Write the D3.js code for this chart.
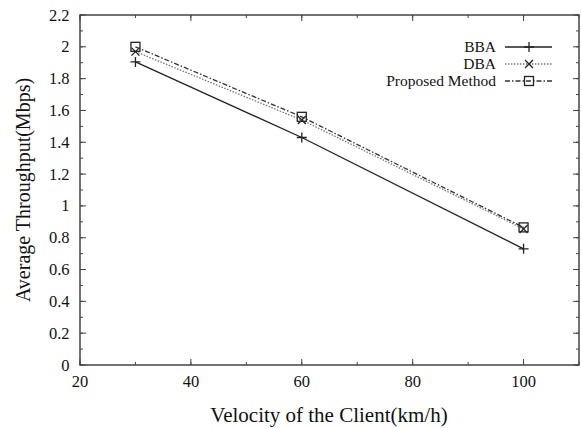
<!DOCTYPE html>
<html>
<head>
<meta charset="utf-8">
<script src="https://cdn.jsdelivr.net/npm/d3@7"></script>
<style>
body { margin: 0; background: #fff; }
text { font-family: "Liberation Serif", "Times New Roman", serif; fill: #111; }
</style>
</head>
<body>
<div id="chart"></div>
<script>
var velocity = [30, 60, 100];
var bba = [1.905, 1.43, 0.73];
var dba = [1.97, 1.54, 0.855];
var proposed = [2.0, 1.56, 0.865];
var seriesNames = ["BBA", "DBA", "Proposed Method"];
var xTicks = [20, 40, 60, 80, 100];
var yTicks = [0, 0.2, 0.4, 0.6, 0.8, 1, 1.2, 1.4, 1.6, 1.8, 2, 2.2];

var margin = {top: 15, right: 3, bottom: 63, left: 80};
var width = 582 - margin.left - margin.right;
var height = 428 - margin.top - margin.bottom;

var svg = d3.select("#chart")
    .append("svg")
        .attr("width", 582)
        .attr("height", 428)
    .append("g")
    .attr("transform", "translate(" + margin.left + "," + margin.top + ")");

var x = d3.scaleLinear().domain([20, 110]).range([0, width]);
var y = d3.scaleLinear().domain([0, 2.2]).range([height, 0]);

// ticks, drawn inward on all four sides
var minorX = d3.range(20, 111, 10);
var minorY = d3.range(0, 2.21, 0.1);
var tickColor = "#444";

function vTicks(vals, len, yPos, dir) {
    svg.append("g").selectAll("line").data(vals).enter().append("line")
        .attr("x1", d => x(d)).attr("x2", d => x(d))
        .attr("y1", yPos).attr("y2", yPos + dir * len)
        .attr("stroke", tickColor).attr("stroke-width", 1);
}
function hTicks(vals, len, xPos, dir) {
    svg.append("g").selectAll("line").data(vals).enter().append("line")
        .attr("y1", d => y(d)).attr("y2", d => y(d))
        .attr("x1", xPos).attr("x2", xPos + dir * len)
        .attr("stroke", tickColor).attr("stroke-width", 1);
}
vTicks(minorX, 3, height, -1);
vTicks(minorX, 3, 0, 1);
vTicks(xTicks, 6, height, -1);
vTicks(xTicks, 6, 0, 1);
hTicks(minorY, 3, 0, 1);
hTicks(minorY, 3, width, -1);
hTicks(yTicks, 6, 0, 1);
hTicks(yTicks, 6, width, -1);

svg.append("rect")
    .attr("width", width).attr("height", height)
    .attr("fill", "none").attr("stroke", "#444").attr("stroke-width", 1.5);

svg.append("g").selectAll("text").data(xTicks).enter().append("text")
    .attr("x", d => x(d)).attr("y", height + 22)
    .attr("text-anchor", "middle").attr("font-size", "16.5px")
    .text(d => d);

svg.append("g").selectAll("text").data(yTicks).enter().append("text")
    .attr("x", -10.5).attr("y", d => y(d) + 5.5)
    .attr("text-anchor", "end").attr("font-size", "16.5px")
    .text(d => d);

svg.append("text")
    .attr("x", 249).attr("y", height + 57)
    .attr("text-anchor", "middle").attr("font-size", "21px")
    .text("Velocity of the Client(km/h)");

svg.append("text")
    .attr("transform", "rotate(-90)")
    .attr("x", -175).attr("y", -50)
    .attr("text-anchor", "middle").attr("font-size", "20px")
    .text("Average Throughput(Mbps)");

// series
var series = [
    {name: seriesNames[0], values: bba, color: "#222", dash: null, width: 1.3, marker: "plus"},
    {name: seriesNames[1], values: dba, color: "#777", dash: "1.5,1.5", width: 1.3, marker: "cross"},
    {name: seriesNames[2], values: proposed, color: "#333", dash: "5,2,1.5,2", width: 1.3, marker: "square"}
];

var line = d3.line()
    .x((d, i) => x(velocity[i]))
    .y(d => y(d));

function drawMarker(g, type, cx, cy) {
    if (type === "plus") {
        g.append("path").attr("d", "M" + (cx - 5) + "," + cy + "H" + (cx + 5) + "M" + cx + "," + (cy - 5) + "V" + (cy + 5))
            .attr("stroke", "#222").attr("stroke-width", 1.3).attr("fill", "none");
    } else if (type === "cross") {
        g.append("path").attr("d", "M" + (cx - 4) + "," + (cy - 4) + "L" + (cx + 4) + "," + (cy + 4) + "M" + (cx - 4) + "," + (cy + 4) + "L" + (cx + 4) + "," + (cy - 4))
            .attr("stroke", "#222").attr("stroke-width", 1.3).attr("fill", "none");
    } else {
        g.append("rect").attr("x", cx - 4.5).attr("y", cy - 4.5).attr("width", 9).attr("height", 9)
            .attr("stroke", "#222").attr("stroke-width", 1.3).attr("fill", "none");
    }
}

series.forEach(function(s) {
    svg.append("path")
        .datum(s.values)
        .attr("d", line)
        .attr("fill", "none")
        .attr("stroke", s.color)
        .attr("stroke-width", s.width)
        .attr("stroke-dasharray", s.dash);
    var g = svg.append("g");
    s.values.forEach(function(v, i) {
        drawMarker(g, s.marker, x(velocity[i]), y(v));
    });
});

// legend
var legend = svg.append("g").attr("transform", "translate(" + (width - 74) + ",32)");
series.forEach(function(s, i) {
    var ly = i * 17;
    legend.append("text")
        .attr("x", -9).attr("y", ly + 5)
        .attr("text-anchor", "end").attr("font-size", "15.5px")
        .text(s.name);
    legend.append("line")
        .attr("x1", 0).attr("x2", 47).attr("y1", ly).attr("y2", ly)
        .attr("stroke", s.color).attr("stroke-width", s.width)
        .attr("stroke-dasharray", s.dash);
    drawMarker(legend, s.marker, 24, ly);
});
</script>
</body>
</html>
